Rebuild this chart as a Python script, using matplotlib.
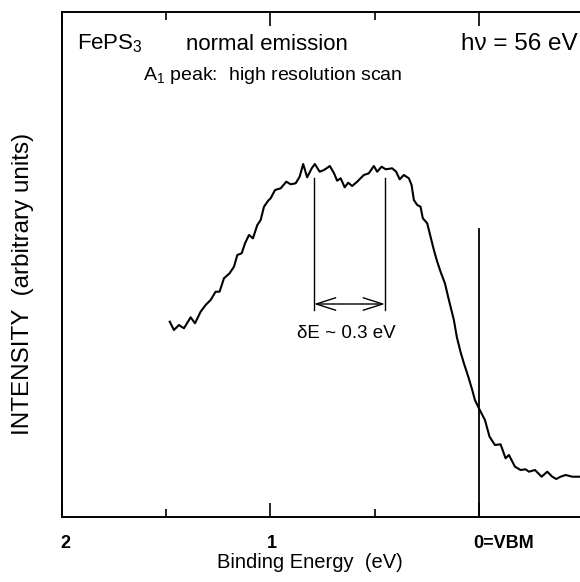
import matplotlib
matplotlib.use("Agg")
import matplotlib.pyplot as plt

plt.rcParams['font.family'] = ['Liberation Sans', 'DejaVu Sans']
plt.rcParams['mathtext.fontset'] = 'custom'
plt.rcParams['mathtext.rm'] = 'Liberation Sans'
plt.rcParams['mathtext.it'] = 'Liberation Sans:italic'

# Binding energy (eV) and intensity (arbitrary units)
energy = [1.483, 1.463, 1.439, 1.415, 1.383, 1.362, 1.335, 1.311, 1.287, 1.263,
          1.244, 1.223, 1.196, 1.175, 1.159, 1.138, 1.122, 1.103, 1.084, 1.063,
          1.047, 1.031, 1.011, 0.999, 0.978, 0.951, 0.924, 0.903, 0.879, 0.860,
          0.843, 0.824, 0.802, 0.787, 0.764, 0.743, 0.715, 0.695, 0.680, 0.663,
          0.644, 0.627, 0.608, 0.584, 0.552, 0.528, 0.504, 0.488, 0.467, 0.447,
          0.416, 0.397, 0.380, 0.360, 0.336, 0.323, 0.312, 0.296, 0.280, 0.269,
          0.248, 0.232, 0.216, 0.200, 0.184, 0.163, 0.144, 0.120, 0.106, 0.088,
          0.072, 0.051, 0.032, 0.019, 0.000, -0.029, -0.051, -0.077, -0.104, -0.128,
          -0.144, -0.173, -0.200, -0.224, -0.240, -0.269, -0.301, -0.328, -0.352, -0.371,
          -0.392, -0.416, -0.448, -0.480]
intensity = [195.3, 187, 192, 188.7, 199.7, 193.7, 205.3, 212, 217, 225.3,
             225.3, 238.7, 243.7, 250.3, 262, 263.7, 273.7, 282, 278.7, 292,
             297, 310.3, 316.3, 318.7, 327, 328.7, 335.3, 332.7, 333.7, 340.3,
             353, 339.7, 348.7, 353, 345.3, 347, 351, 343.7, 336.3, 338.7,
             329.7, 334.3, 331, 335.3, 342, 343.7, 351, 345.3, 350.3, 347.7,
             348.7, 345.3, 337.7, 342, 338.7, 332, 317, 312, 310.3, 298.7,
             293.7, 280.3, 267, 255.3, 245.3, 233.7, 217, 197, 180, 165,
             153.7, 140.3, 127, 117, 108.7, 97, 80.3, 72, 72.7, 58.7,
             62, 50.3, 47, 47.7, 45.3, 47, 40.3, 45.3, 40.3, 38,
             40.3, 42, 40.3, 40.3]

major_ticks = [2, 1, 0]
minor_ticks = [1.5, 0.5]
tick_labels = ["2", "1", "0=VBM"]
tick_label_pos = [1.986, 0.995, 0.029]
tick_label_ha = ["center", "center", "left"]
res_left, res_right = 0.791, 0.451      # resolution markers (eV)
res_top, res_bottom, res_arrow = 339, 207, 213
res_label_pos = (0.635, 183)
vbm_top = 288
xlim = (2.0, -0.485)
ylim = (0, 505)

fig = plt.figure(figsize=(5.80, 5.82), dpi=100)
ax = fig.add_axes([62/580, 65/582, 518/580, 505/582])

ax.plot(energy, intensity, color='black', lw=1.5, solid_joinstyle='round')

# resolution markers
ax.plot([res_left, res_left], [res_bottom, res_top], color='black', lw=1.0)
ax.plot([res_right, res_right], [res_bottom, res_top], color='black', lw=1.0)
ax.annotate('', xy=(res_right, res_arrow), xytext=(res_left, res_arrow),
            arrowprops=dict(arrowstyle='<->,head_length=1.4,head_width=0.45',
                            color='black', lw=1.0, shrinkA=0, shrinkB=0))
ax.text(res_label_pos[0], res_label_pos[1], 'δE ~ 0.3 eV', ha='center', va='center',
        fontsize=13.5)
# VBM line
ax.plot([0, 0], [0, vbm_top], color='black', lw=1.3)

ax.set_xlim(*xlim)
ax.set_ylim(*ylim)

for s in ['left', 'bottom', 'top']:
    ax.spines[s].set_linewidth(1.4)
ax.spines['right'].set_visible(False)

ax.set_yticks([])
ax.set_xticks(major_ticks)
ax.set_xticks(minor_ticks, minor=True)
ax.set_xticklabels([])
ax.tick_params(axis='x', which='major', direction='in', length=10, width=1.2, top=True)
ax.tick_params(axis='x', which='minor', direction='in', length=6, width=1.2, top=True)
for lab, pos, ha in zip(tick_labels, tick_label_pos, tick_label_ha):
    ax.text(pos, -0.0515, lab, transform=ax.get_xaxis_transform(), ha=ha,
            va='center', fontsize=13, fontweight='bold')

ax.set_xlabel('Binding Energy  (eV)', fontsize=14.5)
ax.xaxis.label.set_va('center')
ax.xaxis.set_label_coords(0.479, -0.091)
ax.set_ylabel('INTENSITY  (arbitrary units)', fontsize=17.5)
ax.yaxis.label.set_va('center')
ax.yaxis.set_label_coords(-39 / 518, 0.461)

ax.text(0.029, 0.925, r'FePS$_3$', transform=ax.transAxes, fontsize=16, va='baseline')
ax.text(0.239, 0.925, 'normal emission', transform=ax.transAxes, fontsize=16, va='baseline')
ax.text(0.996, 0.925, 'hν = 56 eV', transform=ax.transAxes, fontsize=17.5,
        va='baseline', ha='right')
ax.text(0.156, 0.865, r'A$_1$ peak:  high resolution scan', transform=ax.transAxes,
        fontsize=14, va='baseline')

fig.savefig('out.png', dpi=100)
